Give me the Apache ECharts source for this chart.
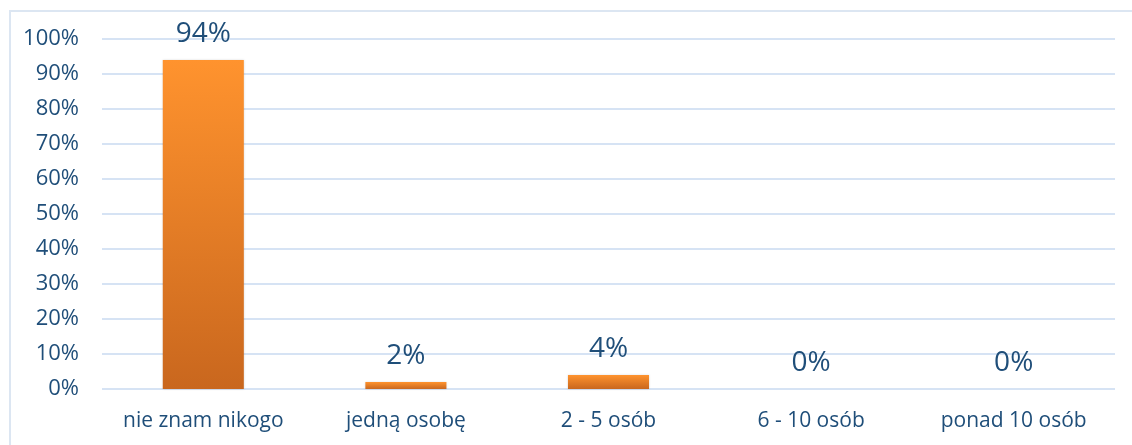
<!DOCTYPE html>
<html>
<head>
<meta charset="utf-8">
<script src="https://cdn.jsdelivr.net/npm/echarts@6/dist/echarts.min.js"></script>
<style>
html,body{margin:0;padding:0;background:#fff;}
#frame{position:absolute;left:9px;top:10px;width:1140px;height:460px;border:2px solid #DCE6F2;box-sizing:border-box;}
#chart{position:absolute;left:0;top:0;width:1132px;height:445px;}
</style>
</head>
<body>
<div id="frame"></div>
<div id="chart"></div>
<script>
// kategorie i wartości (%)
var categories = ['nie znam nikogo', 'jedną osobę', '2 - 5 osób', '6 - 10 osób', 'ponad 10 osób'];
var values = [94, 2, 4, 0, 0];
var textColor = '#1F4E79';

var chart = echarts.init(document.getElementById('chart'));
chart.setOption({
	animation: false,
	grid: {left: 102, right: 17, top: 39, bottom: 56},
	xAxis: {
		type: 'category',
		data: categories,
		axisLine: {show: false},
		axisTick: {show: false},
		axisLabel: {color: textColor, fontSize: 21, fontFamily: 'Open Sans', margin: 22, interval: 0, hideOverlap: false}
	},
	yAxis: {
		type: 'value',
		min: 0,
		max: 100,
		interval: 10,
		axisLine: {show: false},
		axisTick: {show: false},
		axisLabel: {color: textColor, fontSize: 22, fontFamily: 'Open Sans', margin: 23, formatter: '{value}%'},
		splitLine: {lineStyle: {color: '#D6E3F4', width: 2}}
	},
	series: [{
		type: 'bar',
		data: values,
		barWidth: '40%',
		itemStyle: {
			color: new echarts.graphic.LinearGradient(0, 0, 0, 1, [
				{offset: 0, color: '#FF932E'},
				{offset: 1, color: '#C9671E'}
			]),
			shadowColor: 'rgba(0,0,0,0.15)',
			shadowBlur: 2
		},
		label: {
			show: true,
			position: 'top',
			distance: 12,
			color: textColor,
			fontSize: 28,
			fontFamily: 'Open Sans',
			formatter: '{c}%'
		}
	}]
});
</script>
</body>
</html>
